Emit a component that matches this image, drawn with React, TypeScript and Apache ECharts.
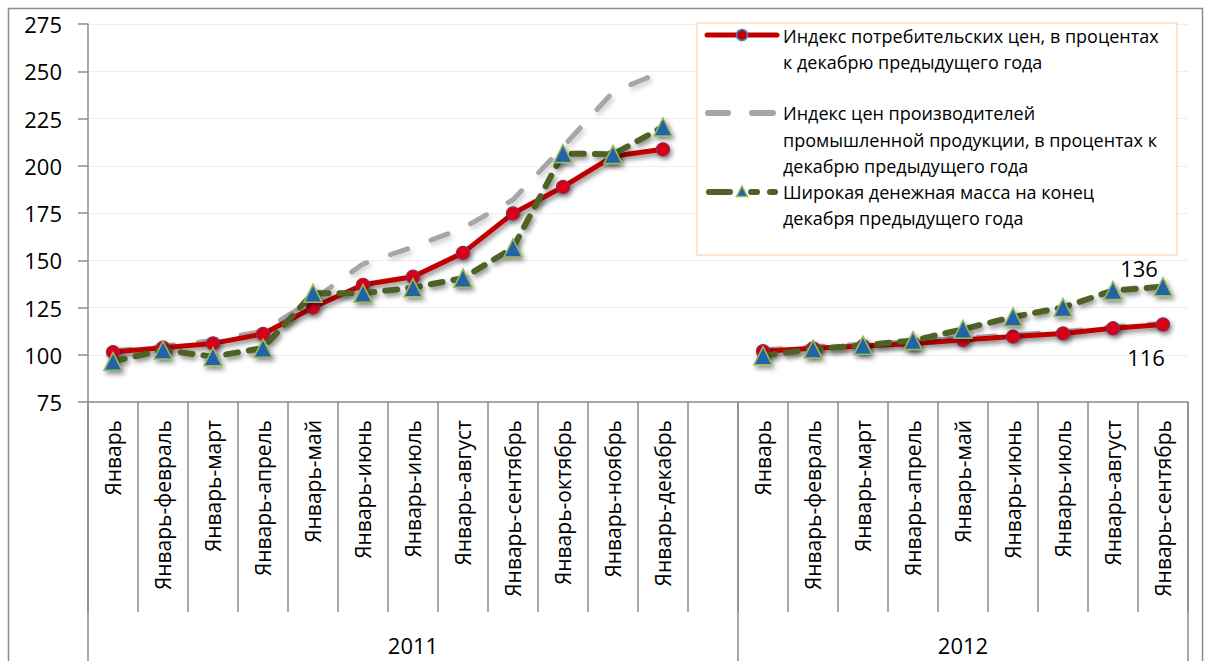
import React, { useEffect, useRef } from 'react';
import * as echarts from 'echarts';

// ---- data ----
const categories = [
  'Январь', 'Январь-февраль', 'Январь-март', 'Январь-апрель', 'Январь-май', 'Январь-июнь',
  'Январь-июль', 'Январь-август', 'Январь-сентябрь', 'Январь-октябрь', 'Январь-ноябрь', 'Январь-декабрь',
  '',
  'Январь', 'Январь-февраль', 'Январь-март', 'Январь-апрель', 'Январь-май', 'Январь-июнь',
  'Январь-июль', 'Январь-август', 'Январь-сентябрь',
];
const years = ['2011', '2012'];
const yearSpans = [13, 9];

const cpi = [101.4, 103.7, 106, 111, 125, 137, 141.3, 153.9, 174.8, 188.8, 205, 208.7, null,
  101.9, 103.4, 104.6, 106, 107.8, 109.6, 111.3, 114, 116];
const ppi = [102, 104.5, 107.5, 112.5, 129, 148, 157, 167, 182, 210, 239, 250, null,
  102.5, 104.3, 105.5, 107, 108.8, 110.5, 112.2, 114.8, 116.6];
const money = [96.5, 102.5, 99, 103.5, 132.5, 132.5, 135.5, 140.5, 156.5, 206.5, 206, 220.5, null,
  99.5, 103, 105, 107.5, 113.5, 120, 125, 134, 136];

const seriesNames = [
  'Индекс потребительских цен, в процентах\nк декабрю предыдущего года',
  'Индекс цен производителей\nпромышленной продукции, в процентах к\nдекабрю предыдущего года',
  'Широкая денежная масса на конец\nдекабря предыдущего года',
];

const yMin = 75;
const yMax = 275;
const yStep = 25;

const FONT = '"Open Sans", "Noto Sans", sans-serif';

function withEndLabel(arr: (number | null)[], offset: number[]) {
  const last = arr.length - 1;
  return arr.map((v, i) =>
    i === last
      ? {
          value: v,
          label: {
            show: true,
            position: 'inside',
            offset,
            fontSize: 22,
            fontFamily: FONT,
            color: '#000',
            formatter: (p: any) => String(Math.round(p.value)),
          },
        }
      : v
  );
}

export default function App() {
  const ref = useRef<HTMLDivElement>(null);

  useEffect(() => {
    if (!ref.current) return;
    const chart = echarts.init(ref.current, undefined, { renderer: 'svg' });

    // group axis labels
    const groupLabels: string[] = [];
    const boundaries: number[] = [];
    let start = 0;
    yearSpans.forEach((span, g) => {
      boundaries.push(start);
      for (let k = 0; k < span; k++) {
        groupLabels.push(k === Math.floor((span - 1) / 2) ? years[g] : '');
      }
      start += span;
    });

    const shadow = {
      shadowColor: 'rgba(0,0,0,0.45)',
      shadowBlur: 5,
      shadowOffsetX: 2,
      shadowOffsetY: 3,
    };

    const LZ = 100;
    const legendText = (text: string, y: number, lh: number) => ({
      type: 'text',
      z: LZ + 2,
      x: 783,
      y,
      style: {
        text,
        font: `18px ${FONT}`,
        fill: '#000',
        lineHeight: lh,
        verticalAlign: 'top',
      },
    });
    const seg = (x1: number, x2: number, y: number, color: string, w: number) => ({
      type: 'line',
      z: LZ + 1,
      shape: { x1, y1: y, x2, y2: y },
      style: { stroke: color, lineWidth: w, lineCap: 'round' },
    });

    const option: any = {
      animation: false,
      backgroundColor: '#fff',
      grid: { left: 88, right: 19, top: 24, bottom: 259, containLabel: false },
      xAxis: [
        {
          type: 'category',
          data: categories,
          position: 'bottom',
          boundaryGap: true,
          axisLine: { show: true, onZero: false, lineStyle: { color: '#8C8C8C', width: 1.5 } },
          axisTick: { show: true, interval: 0, length: 210, lineStyle: { color: '#8C8C8C', width: 1.5 } },
          axisLabel: {
            interval: 0,
            rotate: 90,
            margin: 18,
            fontSize: 21,
            fontFamily: FONT,
            color: '#000',
          },
          splitLine: { show: false },
        },
        {
          type: 'category',
          data: groupLabels,
          position: 'bottom',
          boundaryGap: true,
          axisLine: { show: false, onZero: false },
          axisTick: {
            show: true,
            interval: (i: number) => boundaries.indexOf(i) >= 0,
            length: 280,
            lineStyle: { color: '#8C8C8C', width: 1.5 },
          },
          axisLabel: {
            interval: 0,
            margin: 232,
            fontSize: 22,
            fontFamily: FONT,
            color: '#000',
          },
          splitLine: { show: false },
        },
      ],
      yAxis: {
        type: 'value',
        min: yMin,
        max: yMax,
        interval: yStep,
        axisLine: { show: true, lineStyle: { color: '#8C8C8C', width: 1.5 } },
        axisTick: { show: true, length: 10, lineStyle: { color: '#8C8C8C', width: 1.5 } },
        axisLabel: { margin: 26, fontSize: 22, fontFamily: FONT, color: '#000' },
        splitLine: { show: true, lineStyle: { color: '#F3EDE9', width: 1 } },
      },
      series: [
        {
          name: seriesNames[1],
          type: 'line',
          z: 2,
          data: ppi,
          connectNulls: false,
          symbol: 'none',
          lineStyle: { color: '#A6A6A6', width: 5, type: [18, 25], cap: 'round', ...shadow, shadowColor: 'rgba(0,0,0,0.2)' },
        },
        {
          name: seriesNames[0],
          type: 'line',
          z: 3,
          data: withEndLabel(cpi, [-17, 32]),
          connectNulls: false,
          symbol: 'circle',
          symbolSize: 13,
          lineStyle: { color: '#C00000', width: 5, cap: 'round', ...shadow },
          itemStyle: { color: '#D80012', borderColor: '#8E2950', borderWidth: 1.2, ...shadow },
        },
        {
          name: seriesNames[2],
          type: 'line',
          z: 4,
          data: withEndLabel(money, [-24, -19]),
          connectNulls: false,
          symbol: 'triangle',
          symbolSize: 18,
          lineStyle: { color: '#4F6228', width: 6, type: [12, 11], cap: 'round', ...shadow },
          itemStyle: { color: '#2262A8', borderColor: '#9BBB59', borderWidth: 1.5, ...shadow },
        },
      ],
      graphic: [
        {
          type: 'rect',
          z: 0,
          silent: true,
          shape: { x: 8.5, y: 8.5, width: 1194, height: 700 },
          style: { fill: 'none', stroke: '#8C8C8C', lineWidth: 1.5 },
        },
        {
          type: 'rect',
          z: LZ,
          shape: { x: 697, y: 23, width: 480, height: 232 },
          style: { fill: '#fff', stroke: '#FBD9C0', lineWidth: 1.5 },
        },
        // entry 1
        seg(707, 777, 35, '#C00000', 5),
        {
          type: 'circle',
          z: LZ + 2,
          shape: { cx: 742, cy: 35, r: 5.5 },
          style: { fill: '#C00000', stroke: '#4F81BD', lineWidth: 1.5 },
        },
        legendText(seriesNames[0], 23, 26),
        // entry 2
        seg(708, 728, 113, '#A6A6A6', 6),
        seg(752, 773, 113, '#A6A6A6', 6),
        legendText(seriesNames[1], 100, 26.5),
        // entry 3
        seg(709, 730, 192, '#4F6228', 6),
        seg(751, 757, 192, '#4F6228', 6),
        seg(770, 775, 192, '#4F6228', 6),
        {
          type: 'polygon',
          z: LZ + 2,
          shape: { points: [[742, 186], [747.5, 196.5], [736.5, 196.5]] },
          style: { fill: '#2262A8', stroke: '#9BBB59', lineWidth: 1.5 },
        },
        legendText(seriesNames[2], 179, 26),
      ],
    };

    chart.setOption(option);
    return () => {
      chart.dispose();
    };
  }, []);

  return (
    <div
      ref={ref}
      style={{ position: 'absolute', left: 0, top: 0, width: 1207, height: 661, background: '#fff' }}
    />
  );
}
